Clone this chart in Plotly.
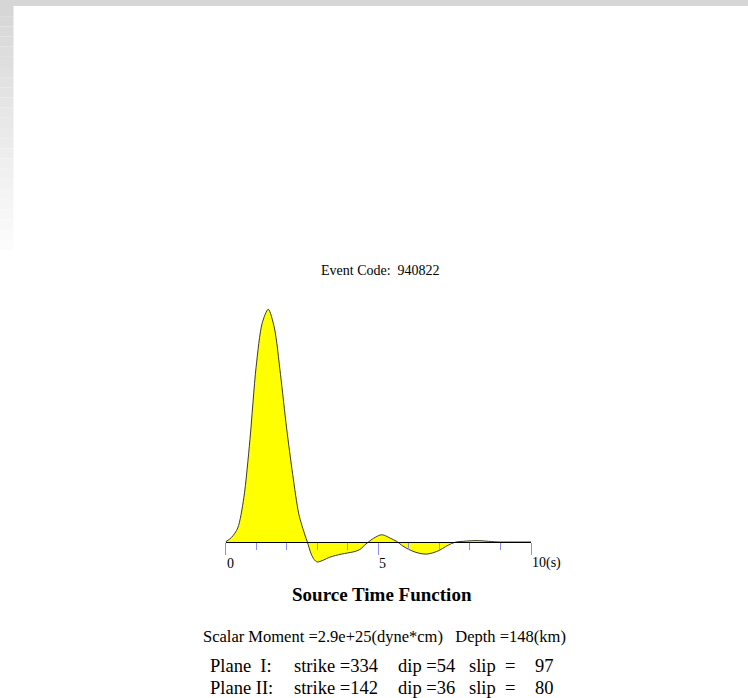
import plotly.graph_objects as go

# ---- data ----
time_s = [0.0, 0.2, 0.4, 0.6, 0.8, 1.0, 1.2, 1.4, 1.6, 1.8, 2.0, 2.2, 2.4, 2.6, 2.68,
          2.8, 2.9, 3.0, 3.2, 3.4, 3.6, 3.8, 4.0, 4.2, 4.4, 4.6, 4.68, 4.8, 5.0, 5.1, 5.2,
          5.4, 5.6, 5.8, 6.0, 6.2, 6.4, 6.6, 6.8, 7.0, 7.2, 7.4, 7.55, 7.8, 8.0, 8.2,
          8.4, 8.6, 8.8, 9.0, 9.5, 10.0]
amplitude = [0.0, 0.02, 0.06, 0.19, 0.44, 0.75, 0.94, 1.0, 0.92, 0.72, 0.49, 0.29, 0.12, 0.03, 0.0,
             -0.05, -0.075, -0.086, -0.078, -0.066, -0.058, -0.052, -0.047, -0.042, -0.032, -0.008, 0.0,
             0.012, 0.027, 0.031, 0.029, 0.016, 0.003, -0.017, -0.032, -0.043, -0.050, -0.052,
             -0.046, -0.036, -0.020, -0.007, 0.0, 0.003, 0.005, 0.006, 0.005, 0.003, 0.001,
             0.0, 0.0, 0.0]
major_ticks = [0, 5, 10]
major_labels = ["0", "5", "10(s)"]

event_code = "Event Code:  940822"
title_text = "Source Time Function"
moment_text = "Scalar Moment =2.9e+25(dyne*cm)   Depth =148(km)"
plane_names = ["Plane  I:", "Plane II:"]
strikes = [334, 142]
dips = [54, 36]
slips = [97, 80]

W, H = 748, 698
SERIF = "Liberation Serif, Times New Roman, serif"

fig = go.Figure()
fig.add_trace(go.Scatter(
    x=time_s, y=amplitude, mode="lines",
    line=dict(color="#3a3a2a", width=1, shape="spline", smoothing=0.8),
    fill="tozeroy", fillcolor="#ffff00", hoverinfo="skip", showlegend=False))

# axis geometry (pixels)
x0_px, x10_px = 225.5, 531.0
base_px = 542.0
unit_px = 232.7
ymin, ymax = -0.15, 1.05
ybot = (H - base_px) - (0 - ymin) * unit_px
ytop = (H - base_px) + ymax * unit_px

TICKC = "#8c8cff"
fig.update_layout(
    width=W, height=H, margin=dict(l=0, r=0, t=0, b=0),
    paper_bgcolor="white", plot_bgcolor="white",
    xaxis=dict(domain=[x0_px / W, x10_px / W], range=[0, 10], anchor="free",
               position=(H - base_px) / H, showgrid=False, zeroline=False,
               showline=True, linecolor="black", linewidth=1,
               tickvals=major_ticks, ticks="outside", ticklen=12,
               tickcolor=TICKC, tickwidth=1.2, showticklabels=False,
               minor=dict(dtick=1, ticks="outside", ticklen=7, tickcolor=TICKC,
                          tickwidth=1.2, showgrid=False),
               fixedrange=True),
    yaxis=dict(domain=[ybot / H, ytop / H], range=[ymin, ymax], visible=False,
               showgrid=False, zeroline=False, fixedrange=True),
)

def px_x(p):
    return p / W

def px_y(p):
    return 1 - p / H

ann = []
# tick labels
for v, lab in zip(major_ticks, major_labels):
    ann.append(dict(x=v, xref="x", y=px_y(563), yref="paper", text=lab, showarrow=False,
                    xanchor="left", yanchor="middle", xshift=-1,
                    font=dict(family=SERIF, size=14, color="black")))

ann.append(dict(x=px_x(380.5), y=px_y(270), xref="paper", yref="paper", text=event_code.replace("  ", "&nbsp; "),
                showarrow=False, xanchor="center", yanchor="middle",
                font=dict(family=SERIF, size=14, color="black")))
ann.append(dict(x=px_x(381.5), y=px_y(594), xref="paper", yref="paper", text="<b>" + title_text + "</b>",
                showarrow=False, xanchor="center", yanchor="middle",
                font=dict(family=SERIF, size=19, color="black")))
ann.append(dict(x=px_x(384.5), y=px_y(636), xref="paper", yref="paper", text=moment_text.replace("   ", "&nbsp;&nbsp; "),
                showarrow=False, xanchor="center", yanchor="middle",
                font=dict(family=SERIF, size=16.5, color="black")))

rows_y = [665.5, 687.5]
for i in range(2):
    y = px_y(rows_y[i])
    f = dict(family=SERIF, size=18.5, color="black")
    ann.append(dict(x=px_x(207.5), y=y, xref="paper", yref="paper",
                    text=plane_names[i].replace("  ", "&nbsp;&nbsp;"), showarrow=False,
                    xanchor="left", yanchor="middle", font=f))
    ann.append(dict(x=px_x(291.5), y=y, xref="paper", yref="paper", text=f"strike ={strikes[i]}",
                    showarrow=False, xanchor="left", yanchor="middle", font=f))
    ann.append(dict(x=px_x(396), y=y, xref="paper", yref="paper", text=f"dip ={dips[i]}",
                    showarrow=False, xanchor="left", yanchor="middle", font=f))
    ann.append(dict(x=px_x(467), y=y, xref="paper", yref="paper", text="slip&nbsp;&nbsp;=",
                    showarrow=False, xanchor="left", yanchor="middle", font=f))
    ann.append(dict(x=px_x(556), y=y, xref="paper", yref="paper", text=f"{slips[i]}",
                    showarrow=False, xanchor="right", yanchor="middle", font=f))

fig.update_layout(annotations=ann)

# grey frame (top band + left gradient band)
shapes = [dict(type="rect", xref="paper", yref="paper", x0=0, x1=1, y0=px_y(6), y1=1,
               fillcolor="#d6d6d6", line=dict(width=0), layer="above")]
nsteps = 24
for k in range(nsteps):
    t0 = 6 + k * (250 - 6) / nsteps
    t1 = 6 + (k + 1) * (250 - 6) / nsteps
    g = int(214 + (253 - 214) * (k + 0.5) / nsteps)
    shapes.append(dict(type="rect", xref="paper", yref="paper", x0=0, x1=px_x(13.5),
                       y0=px_y(t1), y1=px_y(t0), fillcolor=f"rgb({g},{g},{g})",
                       line=dict(width=0), layer="above"))
fig.update_layout(shapes=shapes)

fig.write_html("out.html", config={"displayModeBar": False},
               post_script="document.body.style.margin='0';document.body.style.overflow='hidden';")
